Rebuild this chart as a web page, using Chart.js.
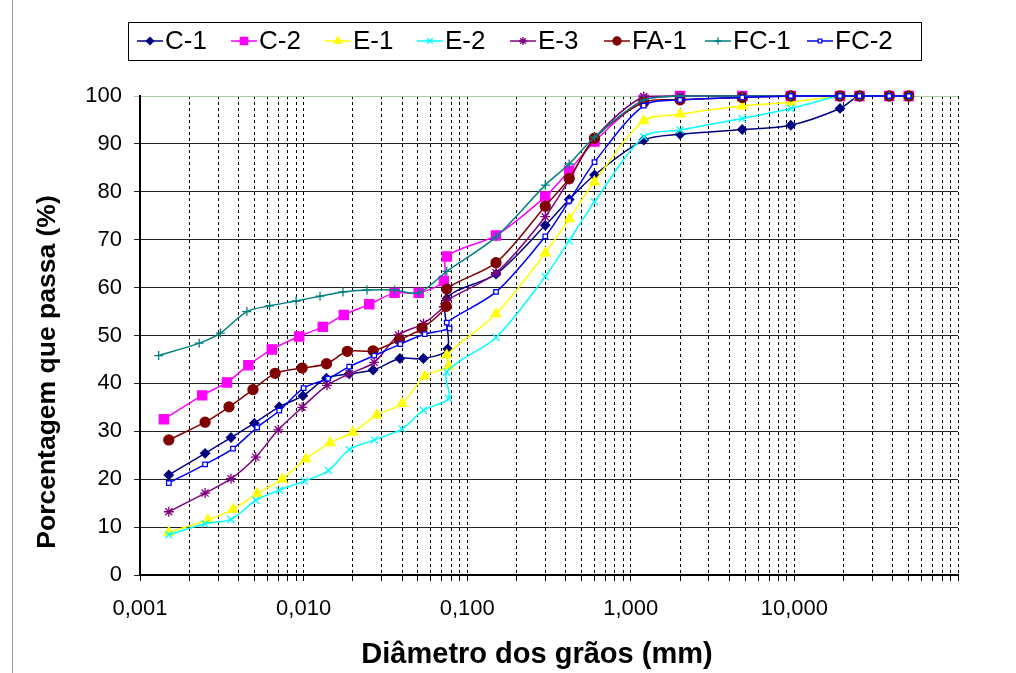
<!DOCTYPE html>
<html>
<head>
<meta charset="utf-8">
<script src="https://cdn.jsdelivr.net/npm/chart.js@4.4.0/dist/chart.umd.min.js"></script>
<style>
  html, body { margin: 0; padding: 0; background: #fff; }
</style>
</head>
<body>
<canvas id="myChart" width="1016" height="673"></canvas>
<script>
// sieve openings (mm), shared by every sample
var sieveMm = [0.075, 0.15, 0.3, 0.42, 0.6, 1.2, 2.0, 4.8, 9.5, 19, 25, 38, 50];

// sedimentation diameters (mm) and % passing (sedimentation points, then sieves)
var c1Hydro = [0.0015, 0.0025, 0.0036, 0.0050, 0.0071, 0.0099, 0.0138, 0.019, 0.0266, 0.0388, 0.054, 0.076];
var c1Pass = [20.9, 25.4, 28.7, 31.7, 35.1, 37.4, 41.1, 42.0, 42.8, 45.2, 45.2, 47.2,
              57.7, 62.8, 73.0, 78.4, 83.5, 90.8, 92.0, 93.0, 93.9, 97.4, 100, 100, 100];

var c2Hydro = [0.0014, 0.0024, 0.0034, 0.0046, 0.0064, 0.0094, 0.0131, 0.0176, 0.0252, 0.036, 0.0505, 0.072];
var c2Pass = [32.5, 37.5, 40.2, 43.8, 47.1, 49.8, 51.8, 54.3, 56.5, 58.9, 58.9, 61.4,
              66.5, 70.9, 79.0, 84.4, 90.5, 99.2, 100, 100, 100, 100, 100, 100, 100];

var e1Hydro = [0.0015, 0.0026, 0.0037, 0.0052, 0.0074, 0.0103, 0.0145, 0.020, 0.028, 0.040, 0.055, 0.077];
var e1Pass = [8.9, 11.5, 13.7, 17.0, 20.0, 24.2, 27.6, 29.8, 33.4, 35.8, 41.5, 43.6,
              45.9, 54.5, 67.2, 74.3, 82.1, 94.8, 96.2, 97.9, 98.7, 100, 100, 100, 100];

var e2Hydro = [0.0015, 0.0025, 0.0036, 0.0051, 0.0071, 0.0101, 0.0142, 0.019, 0.027, 0.040, 0.054, 0.077];
var e2Pass = [8.4, 10.7, 11.6, 15.6, 17.7, 19.6, 21.8, 26.2, 28.2, 30.5, 34.4, 36.9,
              42.4, 49.6, 62.3, 69.8, 77.9, 91.5, 92.9, 95.3, 97.4, 100, 100, 100, 100];

var e3Hydro = [0.0015, 0.0025, 0.0036, 0.0051, 0.0070, 0.0098, 0.0139, 0.019, 0.027, 0.038, 0.054, 0.072];
var e3Pass = [13.2, 17.1, 20.1, 24.6, 30.3, 35.0, 39.6, 42.0, 44.4, 50.1, 52.5, 56.0,
              57.3, 63.1, 74.8, 82.5, 91.2, 99.9, 100, 100, 100, 100, 100, 100, 100];

var fa1Hydro = [0.0015, 0.0025, 0.0035, 0.0049, 0.0067, 0.0098, 0.0138, 0.0185, 0.0266, 0.0385, 0.053, 0.0744];
var fa1Pass = [28.2, 31.9, 35.1, 38.7, 42.1, 43.2, 44.1, 46.7, 46.8, 49.1, 51.5, 56.1,
               59.7, 65.2, 77.0, 82.8, 91.2, 98.7, 99.2, 99.7, 100, 100, 100, 100, 100];

var fc1Hydro = [0.0013, 0.0023, 0.0031, 0.0045, 0.0062, 0.0090, 0.0126, 0.0174, 0.0244, 0.036, 0.0505];
var fc1Pass = [45.8, 48.4, 50.5, 55.0, 56.2, 57.2, 58.2, 59.1, 59.5, 59.5, 58.9,
               63.4, 70.6, 81.4, 85.8, 91.4, 99.2, 100, 100, 100, 100, 100, 100, 100];

var fc2Hydro = [0.0015, 0.0025, 0.0037, 0.0052, 0.0071, 0.0100, 0.0141, 0.019, 0.027, 0.039, 0.055, 0.078];
var fc2Pass = [19.2, 23.1, 26.4, 30.8, 34.3, 39.0, 41.0, 43.5, 45.8, 48.2, 50.3, 51.5,
               52.7, 59.1, 70.7, 78.1, 86.2, 98.0, 99.2, 99.7, 100, 100, 100, 100, 100];

var seriesNames = ['C-1', 'C-2', 'E-1', 'E-2', 'E-3', 'FA-1', 'FC-1', 'FC-2'];
var xTickLabels = ['0,001', '0,010', '0,100', '1,000', '10,000'];
var yTicks = [0, 10, 20, 30, 40, 50, 60, 70, 80, 90, 100];
var xTitle = 'Diâmetro dos grãos (mm)';
var yTitle = 'Porcentagem que passa (%)';

var SANS = '"Liberation Sans", Arial, sans-serif';

function points(hydro, pass) {
  var diam = hydro.concat(sieveMm);
  return diam.map(function (d, i) { return { x: d, y: pass[i] }; });
}

var styles = [
  { color: '#000080', fill: '#000080', shape: 'rectRot', r: 4.5 },
  { color: '#FF00FF', fill: '#FF00FF', shape: 'rect', r: 6.5 },
  { color: '#FFFF00', fill: '#FFFF00', shape: 'triangle', r: 5.5 },
  { color: '#00FFFF', fill: '#00FFFF', shape: 'crossRot', r: 5 },
  { color: '#800080', fill: '#800080', shape: 'star', r: 5 },
  { color: '#800000', fill: '#800000', shape: 'circle', r: 5 },
  { color: '#008080', fill: '#008080', shape: 'cross', r: 4.5 },
  { color: '#0000FF', fill: '#FFFFFF', shape: 'rect', r: 3.2 }
];

var allData = [
  points(c1Hydro, c1Pass), points(c2Hydro, c2Pass), points(e1Hydro, e1Pass),
  points(e2Hydro, e2Pass), points(e3Hydro, e3Pass), points(fa1Hydro, fa1Pass),
  points(fc1Hydro, fc1Pass), points(fc2Hydro, fc2Pass)
];

var datasets = allData.map(function (pts, i) {
  var s = styles[i];
  return {
    label: seriesNames[i],
    data: pts,
    borderColor: s.color,
    backgroundColor: s.fill,
    borderWidth: 1.5,
    tension: 0.3,
    pointStyle: s.shape,
    pointRadius: s.r,
    pointBorderColor: s.color,
    pointBackgroundColor: s.fill,
    pointBorderWidth: 1.3,
    order: allData.length - i,
    clip: 8
  };
});

// every 1..9 x 10^n tick so the log grid gets its minor lines
var xTickValues = [];
for (var e = -3; e <= 1; e++) {
  for (var k = 1; k <= 9; k++) xTickValues.push(Number((k * Math.pow(10, e)).toPrecision(6)));
}
xTickValues.push(100);

function isDecade(v) {
  var lg = Math.log10(v);
  return Math.abs(lg - Math.round(lg)) < 1e-6;
}

var legendMarkX = [150, 244, 338, 430, 523, 617, 718, 820];

// boxed legend with line+marker samples, plus the two axis titles
var decorations = {
  id: 'decorations',
  afterDraw: function (chart) {
    var ctx = chart.ctx;
    ctx.save();
    // thin frame line on the left edge
    ctx.strokeStyle = '#999';
    ctx.lineWidth = 1;
    ctx.beginPath();
    ctx.moveTo(12.5, 0);
    ctx.lineTo(12.5, 673);
    ctx.stroke();

    ctx.strokeStyle = '#000';
    ctx.strokeRect(128.5, 22.5, 793, 38);
    var cy = 41;
    chart.data.datasets.forEach(function (ds, i) {
      var cx = legendMarkX[i];
      ctx.strokeStyle = ds.borderColor;
      ctx.lineWidth = 1.5;
      ctx.beginPath();
      ctx.moveTo(cx - 13, cy);
      ctx.lineTo(cx + 13, cy);
      ctx.stroke();
      ctx.fillStyle = ds.pointBackgroundColor;
      ctx.strokeStyle = ds.pointBorderColor;
      ctx.lineWidth = ds.pointBorderWidth;
      Chart.helpers.drawPoint(ctx, { pointStyle: ds.pointStyle, rotation: 0, radius: ds.pointRadius * 0.8, borderWidth: ds.pointBorderWidth }, cx, cy);
      ctx.fillStyle = '#000';
      ctx.font = '26px ' + SANS;
      ctx.textBaseline = 'middle';
      ctx.textAlign = 'left';
      ctx.fillText(ds.label, cx + 15, cy + 1);
    });

    ctx.fillStyle = '#000';
    ctx.textAlign = 'center';
    ctx.textBaseline = 'middle';
    ctx.font = 'bold 29px ' + SANS;
    ctx.fillText(xTitle, 537, 655);

    ctx.translate(48, 372);
    ctx.rotate(-Math.PI / 2);
    ctx.font = 'bold 26.5px ' + SANS;
    ctx.fillText(yTitle, 0, 0);
    ctx.restore();
  }
};

var ctx = document.getElementById('myChart');
new Chart(ctx, {
  type: 'line',
  data: { datasets: datasets },
  plugins: [decorations],
  options: {
    responsive: false,
    animation: false,
    layout: { padding: { left: 0, right: 58, top: 96, bottom: 0 } },
    plugins: { legend: { display: false }, tooltip: { enabled: false } },
    scales: {
      x: {
        type: 'logarithmic',
        min: 0.001,
        max: 100,
        afterBuildTicks: function (scale) {
          scale.ticks = xTickValues.map(function (v) { return { value: v }; });
        },
        afterFit: function (scale) { scale.height = 98; },
        ticks: {
          autoSkip: false,
          maxRotation: 0,
          minRotation: 0,
          padding: 15,
          color: '#000',
          font: { family: SANS, size: 22 },
          callback: function (v) {
            if (!isDecade(v) || v >= 100) return '';
            return xTickLabels[Math.round(Math.log10(v)) + 3];
          }
        },
        grid: { color: '#000', lineWidth: 1, tickLength: 6 },
        border: { display: true, color: '#000', width: 2, dash: [3, 3] }
      },
      y: {
        min: 0,
        max: 100,
        afterBuildTicks: function (scale) {
          scale.ticks = yTicks.map(function (v) { return { value: v }; });
        },
        afterFit: function (scale) { scale.width = 140; },
        ticks: {
          padding: 12,
          color: '#000',
          font: { family: SANS, size: 22 }
        },
        grid: {
          color: function (c) { return c.tick && c.tick.value === 100 ? '#a8c8a8' : '#222'; },
          lineWidth: 1,
          tickLength: 6
        },
        border: { display: true, color: '#000', width: 2 }
      }
    }
  }
});
</script>
</body>
</html>
